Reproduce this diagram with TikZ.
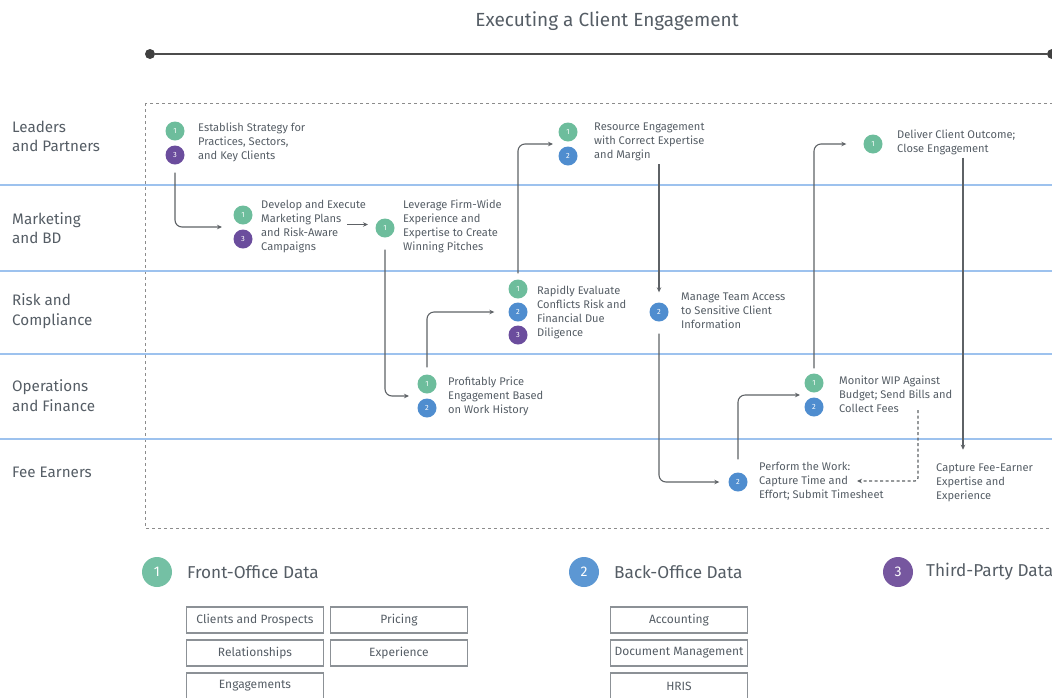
\documentclass[tikz,border=0pt]{standalone}
\usepackage{fontspec}
\setmainfont{Fira Sans}
\usetikzlibrary{calc,arrows.meta}
\definecolor{txt}{HTML}{555D65}
\definecolor{cgreen}{HTML}{6DBD9C}
\definecolor{cblue}{HTML}{4F8DCF}
\definecolor{cpurple}{HTML}{6B4D9D}
\definecolor{lgreen}{HTML}{74C0A4}
\definecolor{lblue}{HTML}{5C97D3}
\definecolor{lpurple}{HTML}{76579F}
\definecolor{laneblue}{HTML}{9DC2EE}
\definecolor{cline}{HTML}{5E6266}
\definecolor{boxline}{HTML}{8C9196}
\begin{document}
\begin{tikzpicture}[x=1pt,y=-1pt,
  num/.style={circle, inner sep=0pt, minimum size=19pt, text=white, font=\fontsize{7.5}{7.5}\selectfont},
  gnum/.style={num, fill=cgreen},
  bnum/.style={num, fill=cblue},
  pnum/.style={num, fill=cpurple},
  lnum/.style={circle, inner sep=0pt, minimum size=30pt, text=white, font=\fontsize{14}{14}\selectfont},
  lbl/.style={anchor=west, align=left, inner sep=0pt, text=txt, font=\fontsize{11.1}{14}\selectfont},
  lanelbl/.style={anchor=west, align=left, inner sep=0pt, text=txt, font=\fontsize{15.2}{19.5}\selectfont},
  legtxt/.style={anchor=west, inner sep=0pt, text=txt, font=\fontsize{17.2}{20}\selectfont},
  databox/.style={draw=boxline, line width=1.2pt, minimum width=137pt, minimum height=26pt, inner sep=0pt, text=txt, font=\fontsize{12}{12}\selectfont},
  conn/.style={draw=cline, line width=1.1pt, rounded corners=7pt, -{Stealth[length=5pt,width=4.5pt]}},
  dconn/.style={conn, dashed, dash pattern=on 3pt off 2.5pt, rounded corners=3pt},
  laneline/.style={draw=laneblue, line width=1.05pt},
  tdot/.style={circle, fill=black!75, inner sep=0pt, minimum size=10pt}
]
\useasboundingbox (0,0) rectangle (1052,697);

% title and timeline
\node[text=txt, font=\fontsize{19}{19}\selectfont] (title) at (607,21) {Executing a Client Engagement};
\node[tdot] (t0) at (150,54) {};
\node[tdot] (t1) at (1052,54) {};
\draw[draw=black!70, line width=2.6pt] (t0) -- (t1);

% frame and lanes
\draw[draw=black!45, line width=1pt, dash pattern=on 3pt off 3pt] (145,103) rectangle (1062,528);
\draw[laneline] (0,185) -- (1052,185);
\draw[laneline] (0,271) -- (1052,271);
\draw[laneline] (0,354) -- (1052,354);
\draw[laneline] (0,439) -- (1052,439);

\node[lanelbl] (ln1) at (12,136.5) {Leaders\\and Partners};
\node[lanelbl] (ln2) at (12,228) {Marketing\\and BD};
\node[lanelbl] (ln3) at (12,311) {Risk and\\Compliance};
\node[lanelbl] (ln4) at (12,395.5) {Operations\\and Finance};
\node[lanelbl] (ln5) at (12,472) {Fee Earners};

% steps
\node[gnum] (eA) at (175,131) {1};
\node[pnum] (eB) at (175,155) {3};
\node[lbl] (eT) at (198,142) {Establish Strategy for\\Practices, Sectors,\\and Key Clients};

\node[gnum] (dA) at (243,215) {1};
\node[pnum] (dB) at (243,239) {3};
\node[lbl] (dT) at (261,226.5) {Develop and Execute\\Marketing Plans\\and Risk-Aware\\Campaigns};

\node[gnum] (lA) at (385,228) {1};
\node[lbl] (lT) at (403,226.5) {Leverage Firm-Wide\\Experience and\\Expertise to Create\\Winning Pitches};

\node[gnum] (sA) at (568,132) {1};
\node[bnum] (sB) at (568,156) {2};
\node[lbl] (sT) at (594,142) {Resource Engagement\\with Correct Expertise\\and Margin};

\node[gnum] (clA) at (873,144) {1};
\node[lbl] (clT) at (897,142) {Deliver Client Outcome;\\Close Engagement};

\node[gnum] (rA) at (518,289) {1};
\node[bnum] (rB) at (518,312) {2};
\node[pnum] (rC) at (518,335) {3};
\node[lbl] (rT) at (537,312) {Rapidly Evaluate\\Conflicts Risk and\\Financial Due\\Diligence};

\node[bnum] (mA) at (659,312) {2};
\node[lbl] (mT) at (681,311) {Manage Team Access\\to Sensitive Client\\Information};

\node[gnum] (pA) at (427,384) {1};
\node[bnum] (pB) at (427,408) {2};
\node[lbl] (pT) at (448,396) {Profitably Price\\Engagement Based\\on Work History};

\node[gnum] (oA) at (814,383) {1};
\node[bnum] (oB) at (814,407) {2};
\node[lbl] (oT) at (839,394) {Monitor WIP Against\\Budget; Send Bills and\\Collect Fees};

\node[bnum] (fA) at (738,482) {2};
\node[lbl] (fT) at (759,481) {Perform the Work:\\Capture Time and\\Effort; Submit Timesheet};

\node[lbl] (cT) at (936,483) {Capture Fee-Earner\\Expertise and\\Experience};

% connectors
\draw[conn, shorten <=8pt, shorten >=21pt] (eB.south) |- ($(dA)!.5!(dB)$);
\draw[conn, shorten >=17pt] ($(dT.east -| lA)+(-38,-2)$) -- ($(dT.east -| lA)+(0,-2)$);
\draw[conn, shorten <=12pt, shorten >=18pt] (lA.south) |- ($(pA)!.5!(pB)$);
\draw[conn, shorten <=7pt, shorten >=14pt] (pA.north) |- (rB);
\draw[conn, shorten <=6pt, shorten >=15pt] (rA.north) |- ($(sA)!.5!(sB)$);
\draw[conn, shorten <=3pt, shorten >=10pt] (sT.south -| mA) -- (mA.north);
\draw[conn, shorten <=12pt, shorten >=9pt] (mA.south) |- (fA.west);
\draw[conn, shorten <=13pt, shorten >=14pt] (fA.north) |- ($(oA)!.5!(oB)$);
\draw[conn, shorten <=5pt, shorten >=17pt] (oA.north) |- (clA);
\coordinate (capTop) at ($(cT.north west)+(27,-14)$);
\draw[conn, shorten <=3pt] (clT.south -| capTop) -- (capTop);
\coordinate (dashStart) at (918,410);
\coordinate (dashEnd) at (857,481);
\draw[dconn] (dashStart) |- (dashEnd);

% legend
\node[lnum, fill=lgreen] (g1) at (157,572) {1};
\node[legtxt] (g1T) at (187,572) {Front-Office Data};
\node[lnum, fill=lblue] (g2) at (584,572) {2};
\node[legtxt] (g2T) at (614,572) {Back-Office Data};
\node[lnum, fill=lpurple] (g3) at (898,572) {3};
\node[legtxt] (g3T) at (926,572) {Third-Party Data};

\node[databox] (b1) at (255,620) {Clients and Prospects};
\node[databox] (b2) at (399,620) {Pricing};
\node[databox] (b3) at (255,653) {Relationships};
\node[databox] (b4) at (399,653) {Experience};
\node[databox] (b5) at (255,686) {Engagements};
\node[databox] (b6) at (679,620) {Accounting};
\node[databox] (b7) at (679,653) {Document Management};
\node[databox] (b8) at (679,686) {HRIS};
\end{tikzpicture}
\end{document}
